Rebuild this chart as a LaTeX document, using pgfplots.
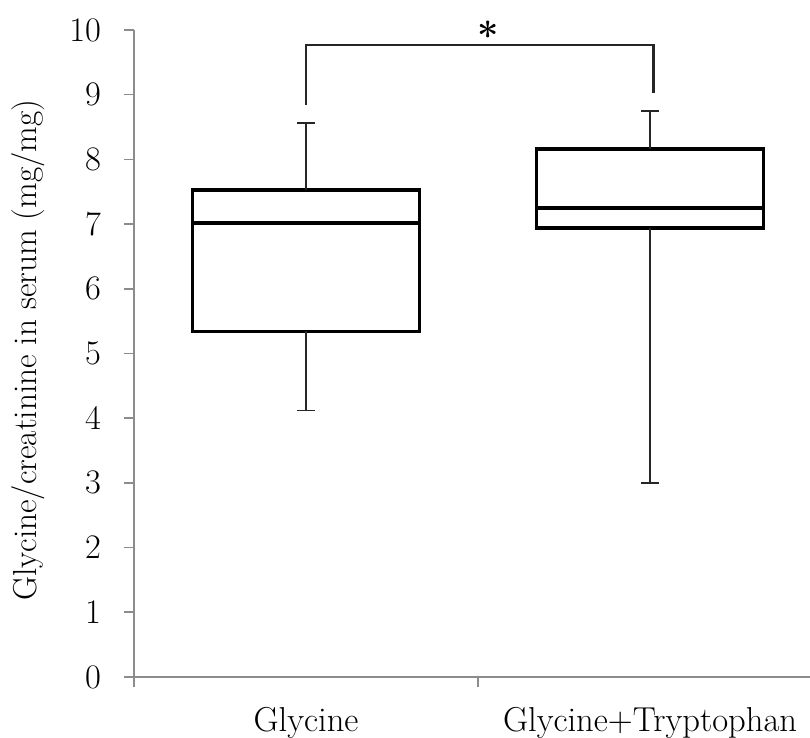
\documentclass[border=0pt]{standalone}
\usepackage{pgfplots}
\pgfplotsset{compat=1.18}
\definecolor{axgray}{HTML}{8C8C8C}
\definecolor{whisk}{HTML}{262626}
\begin{document}
\begin{tikzpicture}
\begin{axis}[
  scale only axis,
  width=338bp, height=323.5bp,
  xmin=0.5, xmax=2.465,
  ymin=0, ymax=10,
  clip=false,
  axis lines*=left,
  axis line style={draw=axgray, line width=0.8bp},
  tick align=outside,
  major tick length=5bp,
  tick style={draw=axgray, line width=0.8bp},
  ytick={0,1,2,3,4,5,6,7,8,9,10},
  xtick={0.5,1.5,2.5},
  xticklabels={,,},
  extra x ticks={1,2},
  extra x tick labels={Glycine,Glycine+Tryptophan},
  extra x tick style={major tick length=0pt, xticklabel style={yshift=-11.5bp, font=\fontsize{17.3bp}{20bp}\selectfont}},
  tick label style={font=\fontsize{16.5bp}{19bp}\selectfont, text=black},
  yticklabel style={xshift=-8bp},
  every axis y label/.style={at={(axis description cs:-0.157,0.505)}, rotate=90, anchor=center},
  ylabel={\fontsize{16.6bp}{19bp}\selectfont Glycine/creatinine in serum (mg/mg)},
  box/.style={black, line width=1.7bp, forget plot},
  wh/.style={whisk, line width=0.9bp, forget plot},
]
% Glycine: lower whisker 4.12, Q1 5.34, median 7.02, Q3 7.53, upper whisker 8.56
\addplot[box] coordinates {(0.67,5.34) (1.33,5.34) (1.33,7.53) (0.67,7.53) (0.67,5.34)} -- cycle;
\addplot[box] coordinates {(0.67,7.02) (1.33,7.02)};
\addplot[wh] coordinates {(1,7.53) (1,8.56)};
\addplot[wh] coordinates {(0.974,8.56) (1.026,8.56)};
\addplot[wh] coordinates {(1,5.34) (1,4.12)};
\addplot[wh] coordinates {(0.974,4.12) (1.026,4.12)};
% Glycine+Tryptophan: lower whisker 3.00, Q1 6.94, median 7.25, Q3 8.16, upper whisker 8.75
\addplot[box] coordinates {(1.67,6.94) (2.33,6.94) (2.33,8.16) (1.67,8.16) (1.67,6.94)} -- cycle;
\addplot[box] coordinates {(1.67,7.25) (2.33,7.25)};
\addplot[wh] coordinates {(2,8.16) (2,8.75)};
\addplot[wh] coordinates {(1.974,8.75) (2.026,8.75)};
\addplot[wh] coordinates {(2,6.94) (2,3.00)};
\addplot[wh] coordinates {(1.974,3.00) (2.026,3.00)};
\draw[whisk, line width=1.1bp] (axis cs:1,8.84) -- (axis cs:1,9.77) -- (axis cs:2.01,9.77) -- (axis cs:2.01,9.03);
\node[anchor=base, inner sep=0pt, font=\fontsize{19bp}{20bp}\selectfont] at (axis cs:1.53,9.70) {\textbf{*}};
\coordinate (LL) at (rel axis cs:0,0);
\coordinate (UR) at (rel axis cs:1,1);
\end{axis}
\pgfresetboundingbox
\useasboundingbox ([shift={(-67bp,-30.5bp)}]LL) rectangle ([shift={(0bp,15bp)}]UR);
\end{tikzpicture}
\end{document}
